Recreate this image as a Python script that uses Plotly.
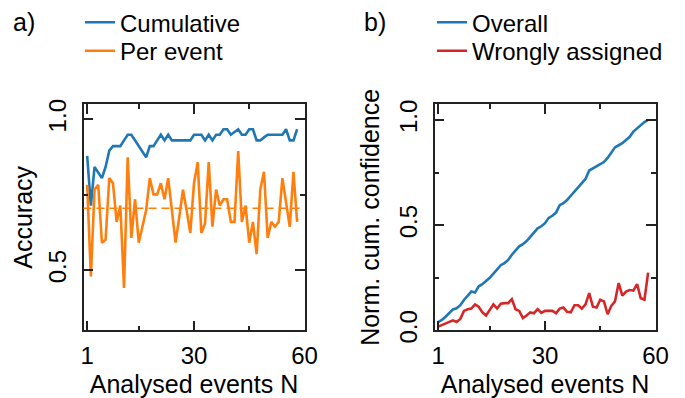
import plotly.graph_objects as go

# ---------------- data ----------------
events = list(range(1, 59))

cumulative_acc = [
    0.879, 0.714, 0.842, 0.823, 0.805, 0.842, 0.896, 0.911, 0.911, 0.911,
    0.930, 0.949, 0.949, 0.930, 0.911, 0.893, 0.874, 0.911, 0.911, 0.930,
    0.949, 0.930, 0.949, 0.930, 0.930, 0.930, 0.930, 0.930, 0.930, 0.949,
    0.949, 0.949, 0.930, 0.949, 0.930, 0.949, 0.949, 0.967, 0.967, 0.949,
    0.958, 0.967, 0.949, 0.949, 0.967, 0.967, 0.930, 0.930, 0.940, 0.949,
    0.949, 0.949, 0.949, 0.949, 0.967, 0.930, 0.930, 0.967,
]

per_event_acc = [
    0.783, 0.479, 0.767, 0.783, 0.591, 0.601, 0.805, 0.788, 0.660, 0.714,
    0.441, 0.874, 0.607, 0.735, 0.591, 0.644, 0.698, 0.805, 0.751, 0.751,
    0.788, 0.735, 0.805, 0.698, 0.591, 0.676, 0.767, 0.698, 0.623, 0.788,
    0.858, 0.623, 0.655, 0.858, 0.644, 0.767, 0.714, 0.735, 0.735, 0.660,
    0.660, 0.895, 0.660, 0.714, 0.591, 0.660, 0.553, 0.767, 0.826, 0.607,
    0.660, 0.644, 0.660, 0.805, 0.725, 0.644, 0.826, 0.660,
]

mean_per_event = 0.705

overall_conf = [
    0.040, 0.050, 0.065, 0.085, 0.100, 0.105, 0.120, 0.145, 0.165, 0.185,
    0.180, 0.210, 0.220, 0.235, 0.250, 0.270, 0.290, 0.310, 0.320, 0.335,
    0.360, 0.380, 0.400, 0.410, 0.425, 0.445, 0.465, 0.485, 0.495, 0.510,
    0.535, 0.545, 0.560, 0.595, 0.605, 0.620, 0.640, 0.660, 0.680, 0.700,
    0.720, 0.760, 0.770, 0.780, 0.790, 0.800, 0.820, 0.845, 0.870, 0.880,
    0.890, 0.905, 0.920, 0.945, 0.960, 0.975, 0.990, 1.000,
]

wrong_conf = [
    0.018, 0.025, 0.032, 0.042, 0.048, 0.040, 0.055, 0.093, 0.101, 0.104,
    0.124, 0.113, 0.086, 0.071, 0.101, 0.124, 0.104, 0.127, 0.130, 0.130,
    0.149, 0.101, 0.093, 0.059, 0.071, 0.086, 0.082, 0.101, 0.083, 0.093,
    0.093, 0.093, 0.082, 0.104, 0.109, 0.089, 0.086, 0.120, 0.120, 0.104,
    0.124, 0.177, 0.113, 0.109, 0.146, 0.138, 0.077, 0.117, 0.138, 0.225,
    0.165, 0.185, 0.192, 0.189, 0.220, 0.153, 0.146, 0.275,
]

x_tickvals = [1, 30, 60]
x_ticktext = ["1", "30", "60"]
x_minor = [15, 45]

acc_tickvals = [0.5, 1.0]
acc_ticktext = ["0.5", "1.0"]
acc_minor = [0.75]

conf_tickvals = [0.0, 0.5, 1.0]
conf_ticktext = ["0.0", "0.5", "1.0"]
conf_minor = [0.25, 0.75]

# ---------------- styling ----------------
BLUE = "#1f77b4"
ORANGE = "#ff7f0e"
RED = "#d62728"
AX = "#222222"
FONT = "Liberation Sans, Arial, sans-serif"

W, H = 685, 398

fig = go.Figure()

fig.add_trace(go.Scatter(x=events, y=cumulative_acc, mode="lines", name="Cumulative",
                         line=dict(color=BLUE, width=2.6), xaxis="x", yaxis="y",
                         legend="legend", showlegend=True))
fig.add_trace(go.Scatter(x=events, y=per_event_acc, mode="lines", name="Per event",
                         line=dict(color=ORANGE, width=2.6), xaxis="x", yaxis="y",
                         legend="legend2", showlegend=True))
fig.add_trace(go.Scatter(x=events, y=overall_conf, mode="lines", name="Overall",
                         line=dict(color=BLUE, width=2.6), xaxis="x2", yaxis="y2",
                         legend="legend3", showlegend=True))
fig.add_trace(go.Scatter(x=events, y=wrong_conf, mode="lines", name="Wrongly assigned",
                         line=dict(color=RED, width=2.6), xaxis="x2", yaxis="y2",
                         legend="legend4", showlegend=True))

fig.add_shape(type="line", xref="x domain", yref="y", x0=0, x1=1,
              y0=mean_per_event, y1=mean_per_event,
              line=dict(color=ORANGE, width=1.6, dash="8px,5px"))

common = dict(showline=True, mirror="allticks", linecolor=AX, linewidth=1.5,
              ticks="inside", ticklen=10, tickwidth=1.5, tickcolor=AX,
              showgrid=False, zeroline=False, automargin=False,
              tickfont=dict(size=24, color="#000", family=FONT),
              tickmode="array")

minor_common = dict(ticks="inside", ticklen=5, tickwidth=1.5, tickcolor=AX)

ydom = [1 - 328 / H, 1 - 93.5 / H]


def leg(xpx, ypx):
    return dict(x=xpx / W, y=1 - ypx / H, xanchor="left", yanchor="middle",
                font=dict(size=24, family=FONT, color="#000"),
                bgcolor="rgba(0,0,0,0)", borderwidth=0, itemwidth=30,
                visible=True)


fig.update_layout(
    width=W, height=H,
    margin=dict(l=0, r=0, t=0, b=0),
    plot_bgcolor="white", paper_bgcolor="white",
    font=dict(family=FONT, color="#000"),
    showlegend=True,
    xaxis=dict(common, domain=[83.5 / W, 304.5 / W], range=[0, 60], anchor="y",
               tickvals=x_tickvals, ticktext=x_ticktext, ticklabelstandoff=3,
               minor=dict(minor_common, tickvals=x_minor),
               title=dict(text="Analysed events N", font=dict(size=25), standoff=9)),
    yaxis=dict(common, domain=ydom, range=[0.3, 1.05], anchor="x",
               tickvals=acc_tickvals, ticktext=acc_ticktext, tickangle=-90, ticklabelstandoff=6,
               minor=dict(minor_common, tickvals=acc_minor),
               title=dict(text="Accuracy", font=dict(size=25), standoff=4)),
    xaxis2=dict(common, domain=[434.5 / W, 655.5 / W], range=[0, 60], anchor="y2",
                tickvals=x_tickvals, ticktext=x_ticktext, ticklabelstandoff=3,
                minor=dict(minor_common, tickvals=x_minor),
                title=dict(text="Analysed events N", font=dict(size=25), standoff=9)),
    yaxis2=dict(common, domain=ydom, range=[0, 1.075], anchor="x2",
                tickvals=conf_tickvals, ticktext=conf_ticktext, tickangle=-90, ticklabelstandoff=6,
                minor=dict(minor_common, tickvals=conf_minor),
                title=dict(text="Norm. cum. confidence", font=dict(size=25), standoff=8)),
    legend=leg(80, 9),
    legend2=leg(80, 38.5),
    legend3=leg(432, 9),
    legend4=leg(432, 38.5),
    annotations=[
        dict(text="a)", x=11 / W, y=1 - 8 / H, xref="paper", yref="paper",
             xanchor="left", yanchor="middle", showarrow=False, font=dict(size=25)),
        dict(text="b)", x=362 / W, y=1 - 8 / H, xref="paper", yref="paper",
             xanchor="left", yanchor="middle", showarrow=False, font=dict(size=25)),
    ],
)

fig.write_html("out.html", config={"displayModeBar": False},
               post_script="document.body.style.margin='0px';")
